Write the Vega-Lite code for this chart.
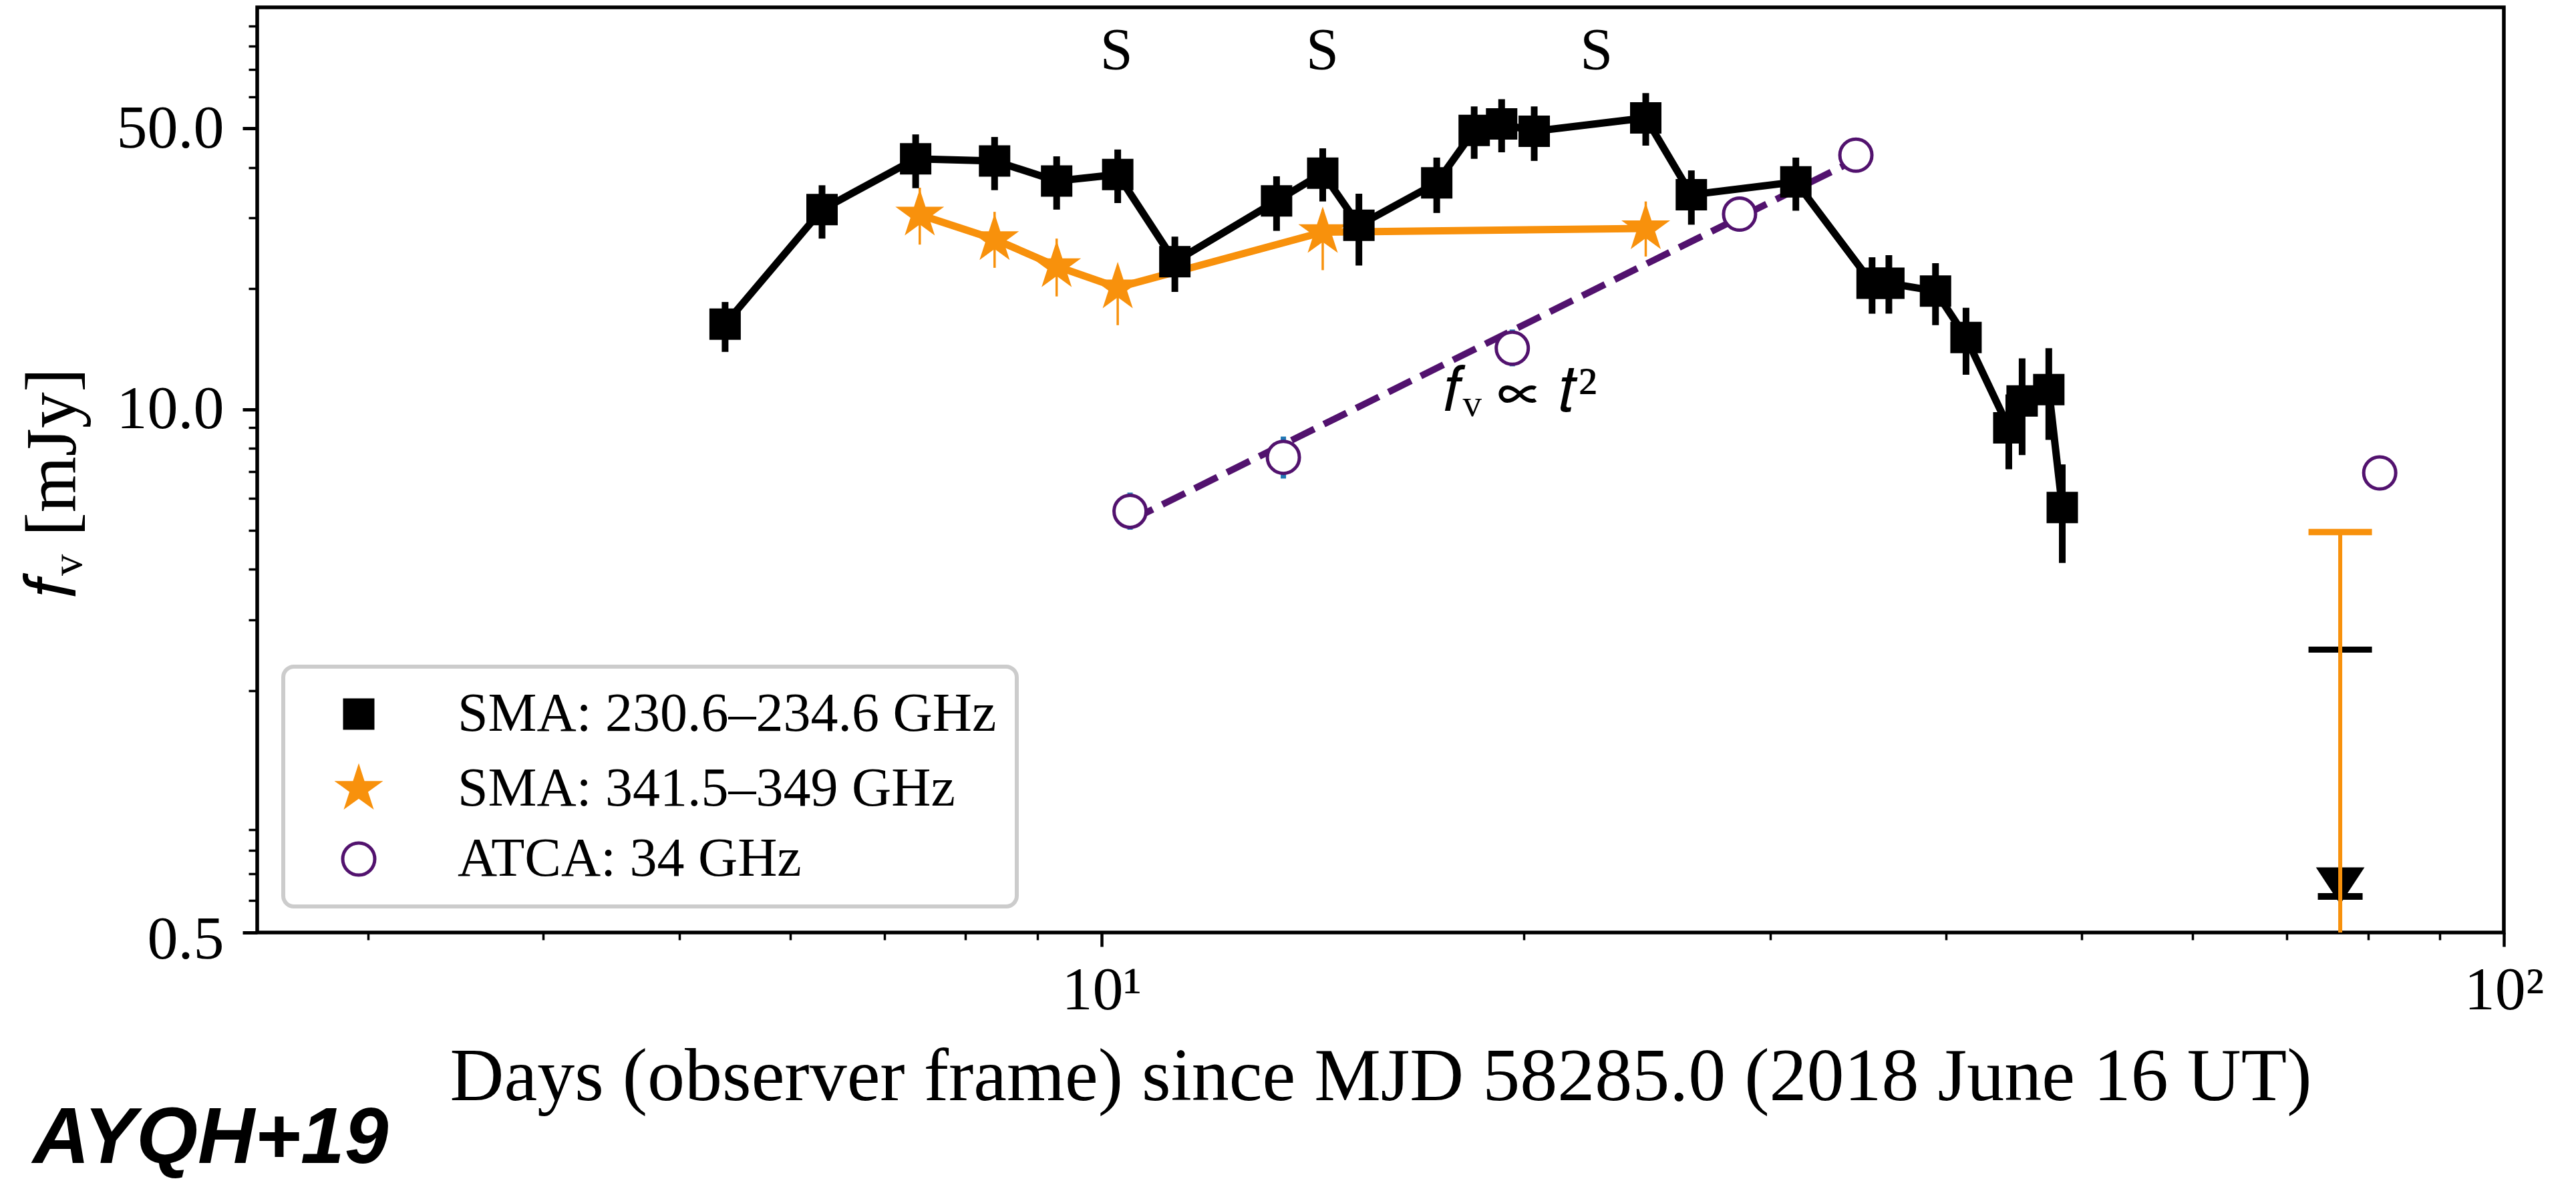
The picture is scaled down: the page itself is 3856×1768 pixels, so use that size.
{
  "$schema": "https://vega.github.io/schema/vega-lite/v6.json",
  "width": 3363,
  "height": 1385,
  "autosize": "none",
  "padding": {"left": 385, "top": 11, "right": 108, "bottom": 372},
  "background": "white",
  "config": {
    "view": {"stroke": "black", "strokeWidth": 5.5},
    "font": "Liberation Serif",
    "axis": {
      "domain": false,
      "grid": false,
      "tickColor": "black",
      "labelColor": "black",
      "titleColor": "black",
      "labelFont": "Liberation Serif",
      "titleFont": "Liberation Serif",
      "titleFontWeight": "normal",
      "labelOverlap": false,
      "labelFlush": false,
      "labelBound": false
    },
    "legend": {
      "orient": "none",
      "legendX": 39,
      "legendY": 987,
      "direction": "vertical",
      "padding": 30,
      "cornerRadius": 16,
      "strokeColor": "#cccccc",
      "strokeWidth": 6,
      "fillColor": "rgba(255,255,255,0.8)",
      "symbolSize": 5893,
      "symbolStrokeWidth": 5,
      "symbolOffset": 42,
      "labelOffset": 107,
      "labelFont": "Liberation Serif",
      "labelFontSize": 82,
      "labelColor": "black",
      "labelLimit": 0,
      "rowPadding": 22,
      "symbolOpacity": 1
    }
  },
  "title": {
    "text": "AYQH+19",
    "orient": "bottom",
    "anchor": "start",
    "frame": "group",
    "font": "Liberation Sans",
    "fontSize": 118,
    "fontWeight": "bold",
    "fontStyle": "italic",
    "color": "black",
    "dx": -336,
    "offset": -20
  },
  "datasets": {
    "obs": [
      {"series": "ATCA: 34 GHz", "t": 10.48, "f": 5.58, "lo": 5.02, "hi": 6.21},
      {"series": "ATCA: 34 GHz", "t": 13.48, "f": 7.6, "lo": 6.73, "hi": 8.56},
      {"series": "ATCA: 34 GHz", "t": 19.63, "f": 14.2, "lo": 12.8, "hi": 15.8},
      {"series": "ATCA: 34 GHz", "t": 28.51, "f": 30.6, "lo": 27.7, "hi": 33.8},
      {"series": "ATCA: 34 GHz", "t": 34.51, "f": 42.9, "lo": 38.9, "hi": 47.4},
      {"series": "ATCA: 34 GHz", "t": 81.56, "f": 6.95, "lo": 6.29, "hi": 7.66},
      {"series": "SMA: 341.5–349 GHz", "t": 7.42, "f": 30.5, "lo": 25.7, "hi": 35.6},
      {"series": "SMA: 341.5–349 GHz", "t": 8.39, "f": 26.5, "lo": 22.5, "hi": 31.0},
      {"series": "SMA: 341.5–349 GHz", "t": 9.29, "f": 22.7, "lo": 19.1, "hi": 26.6},
      {"series": "SMA: 341.5–349 GHz", "t": 10.27, "f": 20.1, "lo": 16.2, "hi": 22.7},
      {"series": "SMA: 341.5–349 GHz", "t": 14.38, "f": 27.6, "lo": 22.2, "hi": 31.4},
      {"series": "SMA: 341.5–349 GHz", "t": 24.44, "f": 28.2, "lo": 24.0, "hi": 32.9},
      {"series": "SMA: 230.6–234.6 GHz", "t": 5.39, "f": 16.3, "lo": 13.9, "hi": 18.5},
      {"series": "SMA: 230.6–234.6 GHz", "t": 6.32, "f": 31.4, "lo": 26.6, "hi": 36.1},
      {"series": "SMA: 230.6–234.6 GHz", "t": 7.37, "f": 42.0, "lo": 35.5, "hi": 48.3},
      {"series": "SMA: 230.6–234.6 GHz", "t": 8.39, "f": 41.5, "lo": 35.1, "hi": 47.6},
      {"series": "SMA: 230.6–234.6 GHz", "t": 9.29, "f": 37.0, "lo": 31.4, "hi": 42.6},
      {"series": "SMA: 230.6–234.6 GHz", "t": 10.27, "f": 38.4, "lo": 32.6, "hi": 44.3},
      {"series": "SMA: 230.6–234.6 GHz", "t": 11.28, "f": 23.3, "lo": 19.6, "hi": 26.9},
      {"series": "SMA: 230.6–234.6 GHz", "t": 13.33, "f": 33.0, "lo": 27.8, "hi": 38.0},
      {"series": "SMA: 230.6–234.6 GHz", "t": 14.38, "f": 38.7, "lo": 32.9, "hi": 44.6},
      {"series": "SMA: 230.6–234.6 GHz", "t": 15.26, "f": 28.7, "lo": 22.8, "hi": 34.4},
      {"series": "SMA: 230.6–234.6 GHz", "t": 17.34, "f": 36.6, "lo": 30.8, "hi": 42.3},
      {"series": "SMA: 230.6–234.6 GHz", "t": 18.44, "f": 49.4, "lo": 42.0, "hi": 56.7},
      {"series": "SMA: 230.6–234.6 GHz", "t": 19.29, "f": 51.3, "lo": 43.6, "hi": 59.1},
      {"series": "SMA: 230.6–234.6 GHz", "t": 20.35, "f": 49.2, "lo": 41.5, "hi": 56.7},
      {"series": "SMA: 230.6–234.6 GHz", "t": 24.44, "f": 53.1, "lo": 45.3, "hi": 61.2},
      {"series": "SMA: 230.6–234.6 GHz", "t": 26.34, "f": 34.2, "lo": 28.8, "hi": 39.3},
      {"series": "SMA: 230.6–234.6 GHz", "t": 31.27, "f": 36.8, "lo": 31.2, "hi": 42.3},
      {"series": "SMA: 230.6–234.6 GHz", "t": 35.44, "f": 20.6, "lo": 17.3, "hi": 23.9},
      {"series": "SMA: 230.6–234.6 GHz", "t": 36.43, "f": 20.6, "lo": 17.3, "hi": 24.2},
      {"series": "SMA: 230.6–234.6 GHz", "t": 39.33, "f": 19.7, "lo": 16.2, "hi": 23.1},
      {"series": "SMA: 230.6–234.6 GHz", "t": 41.35, "f": 15.1, "lo": 12.2, "hi": 17.9},
      {"series": "SMA: 230.6–234.6 GHz", "t": 44.36, "f": 9.0, "lo": 7.1, "hi": 10.9},
      {"series": "SMA: 230.6–234.6 GHz", "t": 45.34, "f": 10.5, "lo": 7.7, "hi": 13.4},
      {"series": "SMA: 230.6–234.6 GHz", "t": 47.37, "f": 11.2, "lo": 8.4, "hi": 14.2},
      {"series": "SMA: 230.6–234.6 GHz", "t": 48.43, "f": 5.7, "lo": 4.15, "hi": 7.3}
    ],
    "fit": [
      {"t": 10.48, "f": 5.29},
      {"t": 34.51, "f": 41.8}
    ],
    "late": [
      {"series": "SMA: 230.6–234.6 GHz", "t": 76.44, "f": 0.653, "lo": 0.615, "hi": 2.527},
      {"series": "SMA: 341.5–349 GHz", "t": 76.44, "hi": 4.954}
    ],
    "epochs": [
      {"t": 10.25, "f": 77.6, "label": "S"},
      {"t": 14.37, "f": 77.6, "label": "S"},
      {"t": 22.54, "f": 77.6, "label": "S"}
    ],
    "law": [
      {"t": 19.88, "f": 11.08, "label": "𝑓ᵥ ∝ 𝑡²"}
    ]
  },
  "encoding": {
    "x": {
      "field": "t",
      "type": "quantitative",
      "scale": {"type": "log", "domain": [2.5, 100], "nice": false},
      "axis": {
        "values": [3, 4, 5, 6, 7, 8, 9, 10, 20, 30, 40, 50, 60, 70, 80, 90, 100],
        "labelExpr": "datum.value == 10 ? '10¹' : datum.value == 100 ? '10²' : ''",
        "tickSize": {"condition": {"test": "datum.value == 10 || datum.value == 100", "value": 21}, "value": 11},
        "tickWidth": {"condition": {"test": "datum.value == 10 || datum.value == 100", "value": 4.5}, "value": 3.5},
        "labelFontSize": 92,
        "labelPadding": 20,
        "title": "Days (observer frame) since MJD 58285.0 (2018 June 16 UT)",
        "titleFontSize": 112,
        "titlePadding": 30
      }
    }
  },
  "layer": [
    {
      "data": {"name": "fit"},
      "mark": {"type": "line", "color": "#52126e", "strokeWidth": 10, "strokeDash": [38, 16]},
      "encoding": {
        "y": {
          "field": "f",
          "type": "quantitative",
          "scale": {"type": "log", "domain": [0.5, 100], "nice": false},
          "axis": {
            "values": [0.5, 0.6, 0.7, 0.8, 0.9, 2, 3, 4, 5, 6, 7, 8, 9, 10, 20, 30, 40, 50, 60, 70, 80, 90],
            "labelExpr": "datum.value == 50 ? '50.0' : datum.value == 10 ? '10.0' : datum.value == 0.5 ? '0.5' : ''",
            "tickSize": {"condition": {"test": "datum.value == 50 || datum.value == 10 || datum.value == 0.5", "value": 22}, "value": 13},
            "tickWidth": {"condition": {"test": "datum.value == 50 || datum.value == 10 || datum.value == 0.5", "value": 5}, "value": 3.5},
            "labelOffset": {"condition": {"test": "datum.value == 0.5", "value": 10}, "value": 0},
            "labelFontSize": 92,
            "labelPadding": 28,
            "title": "𝑓ᵥ [mJy]",
            "titleFontSize": 108,
            "titleAngle": 270,
            "titleX": -305,
            "titleY": 712,
            "titleAlign": "center",
            "titleBaseline": "middle"
          }
        }
      }
    },
    {
      "data": {"name": "obs"},
      "transform": [{"filter": "datum.series === 'ATCA: 34 GHz'"}],
      "mark": {"type": "rule", "color": "#1f77b4", "strokeWidth": 8},
      "encoding": {
        "y": {"field": "lo", "type": "quantitative", "scale": {"type": "log", "domain": [0.5, 100], "nice": false}},
        "y2": {"field": "hi"}
      }
    },
    {
      "data": {"name": "obs"},
      "transform": [{"filter": "datum.series === 'SMA: 341.5–349 GHz'"}],
      "mark": {"type": "line", "color": "#f8910c", "strokeWidth": 11},
      "encoding": {
        "y": {"field": "f", "type": "quantitative", "scale": {"type": "log", "domain": [0.5, 100], "nice": false}}
      }
    },
    {
      "data": {"name": "obs"},
      "transform": [{"filter": "datum.series === 'SMA: 341.5–349 GHz'"}],
      "mark": {"type": "rule", "color": "#f8910c", "strokeWidth": 3.5},
      "encoding": {
        "y": {"field": "lo", "type": "quantitative", "scale": {"type": "log", "domain": [0.5, 100], "nice": false}},
        "y2": {"field": "hi"}
      }
    },
    {
      "data": {"name": "obs"},
      "transform": [{"filter": "datum.series === 'SMA: 230.6–234.6 GHz'"}],
      "mark": {"type": "line", "color": "black", "strokeWidth": 11},
      "encoding": {
        "y": {"field": "f", "type": "quantitative", "scale": {"type": "log", "domain": [0.5, 100], "nice": false}}
      }
    },
    {
      "data": {"name": "obs"},
      "transform": [{"filter": "datum.series === 'SMA: 230.6–234.6 GHz'"}],
      "mark": {"type": "rule", "color": "black", "strokeWidth": 10},
      "encoding": {
        "y": {"field": "lo", "type": "quantitative", "scale": {"type": "log", "domain": [0.5, 100], "nice": false}},
        "y2": {"field": "hi"}
      }
    },
    {
      "data": {"name": "obs"},
      "mark": {"type": "point", "size": 5893, "strokeWidth": 5, "opacity": 1},
      "encoding": {
        "y": {"field": "f", "type": "quantitative", "scale": {"type": "log", "domain": [0.5, 100], "nice": false}},
        "shape": {
          "field": "series",
          "type": "nominal",
          "scale": {
            "domain": ["SMA: 230.6–234.6 GHz", "SMA: 341.5–349 GHz", "ATCA: 34 GHz"],
            "range": [
              "M-0.612,-0.612L0.612,-0.612L0.612,0.612L-0.612,0.612Z",
              "M0,-1L0.2245,-0.309L0.9511,-0.309L0.3633,0.118L0.5878,0.809L0,0.382L-0.5878,0.809L-0.3633,0.118L-0.9511,-0.309L-0.2245,-0.309Z",
              "M0.625,0A0.625,0.625 0 1,1 -0.625,0A0.625,0.625 0 1,1 0.625,0Z"
            ]
          },
          "legend": {"title": null, "orient": "none", "legendX": 39, "legendY": 987}
        },
        "fill": {
          "field": "series",
          "type": "nominal",
          "scale": {
            "domain": ["SMA: 230.6–234.6 GHz", "SMA: 341.5–349 GHz", "ATCA: 34 GHz"],
            "range": ["#000000", "#f8910c", "#ffffff"]
          },
          "legend": {"title": null, "orient": "none", "legendX": 39, "legendY": 987}
        },
        "stroke": {
          "field": "series",
          "type": "nominal",
          "scale": {
            "domain": ["SMA: 230.6–234.6 GHz", "SMA: 341.5–349 GHz", "ATCA: 34 GHz"],
            "range": ["transparent", "transparent", "#52126e"]
          },
          "legend": {"title": null, "orient": "none", "legendX": 39, "legendY": 987}
        }
      }
    },
    {
      "data": {"name": "epochs"},
      "mark": {"type": "text", "font": "Liberation Serif", "fontSize": 88, "align": "center", "baseline": "middle", "color": "black"},
      "encoding": {
        "y": {"field": "f", "type": "quantitative", "scale": {"type": "log", "domain": [0.5, 100], "nice": false}},
        "text": {"field": "label"}
      }
    },
    {
      "data": {"name": "law"},
      "mark": {"type": "text", "font": "Liberation Serif", "fontSize": 95, "align": "center", "baseline": "middle", "color": "black"},
      "encoding": {
        "y": {"field": "f", "type": "quantitative", "scale": {"type": "log", "domain": [0.5, 100], "nice": false}},
        "text": {"field": "label"}
      }
    },
    {
      "data": {"name": "late"},
      "transform": [{"filter": "datum.series === 'SMA: 230.6–234.6 GHz'"}],
      "mark": {"type": "tick", "orient": "horizontal", "color": "black", "size": 95, "thickness": 9, "opacity": 1},
      "encoding": {
        "y": {"field": "hi", "type": "quantitative", "scale": {"type": "log", "domain": [0.5, 100], "nice": false}}
      }
    },
    {
      "data": {"name": "late"},
      "transform": [{"filter": "datum.series === 'SMA: 230.6–234.6 GHz'"}],
      "mark": {"type": "tick", "orient": "horizontal", "color": "black", "size": 67, "thickness": 10, "opacity": 1},
      "encoding": {
        "y": {"field": "lo", "type": "quantitative", "scale": {"type": "log", "domain": [0.5, 100], "nice": false}}
      }
    },
    {
      "data": {"name": "late"},
      "transform": [{"filter": "datum.series === 'SMA: 230.6–234.6 GHz'"}],
      "mark": {"type": "point", "shape": "M-1,-0.76L1,-0.76L0,0.76Z", "size": 5285, "filled": true, "color": "black", "opacity": 1},
      "encoding": {
        "y": {"field": "f", "type": "quantitative", "scale": {"type": "log", "domain": [0.5, 100], "nice": false}}
      }
    },
    {
      "data": {"name": "late"},
      "transform": [{"filter": "datum.series === 'SMA: 341.5–349 GHz'"}],
      "mark": {"type": "rule", "color": "#f8910c", "strokeWidth": 6, "clip": true},
      "encoding": {
        "y": {"field": "hi", "type": "quantitative", "scale": {"type": "log", "domain": [0.5, 100], "nice": false}},
        "y2": {"value": "height"}
      }
    },
    {
      "data": {"name": "late"},
      "transform": [{"filter": "datum.series === 'SMA: 341.5–349 GHz'"}],
      "mark": {"type": "tick", "orient": "horizontal", "color": "#f8910c", "size": 95, "thickness": 9.5, "opacity": 1},
      "encoding": {
        "y": {"field": "hi", "type": "quantitative", "scale": {"type": "log", "domain": [0.5, 100], "nice": false}}
      }
    }
  ]
}
